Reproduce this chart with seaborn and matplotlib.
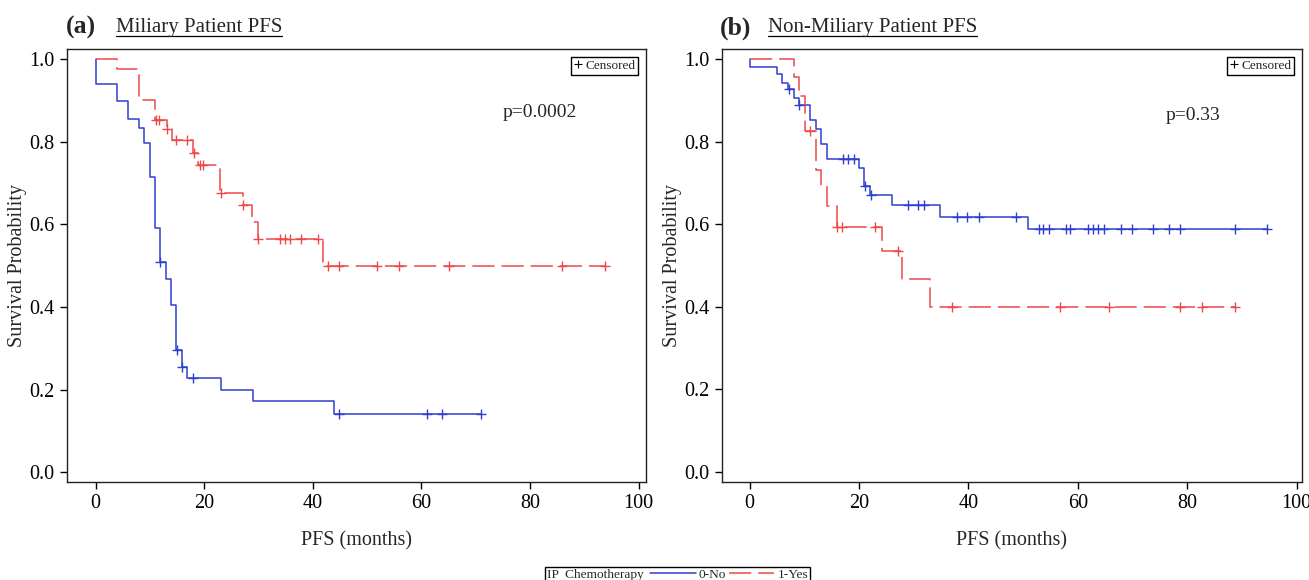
import numpy as np
import pandas as pd
import matplotlib
matplotlib.use("Agg")
import matplotlib.pyplot as plt
import seaborn as sns
from matplotlib.lines import Line2D
from matplotlib.offsetbox import HPacker

# ---------------- data ----------------
# Panel (a) Miliary patients, 0-No
a_no_time = [0, 0, 4.0, 6.0, 8.0, 9.0, 10.0, 11.0, 11.8, 12.9, 13.9, 14.8, 15.9, 16.9, 23.1, 29.0, 43.9, 70.9]
a_no_surv = [1.0, 0.941, 0.898, 0.855, 0.834, 0.796, 0.715, 0.592, 0.509, 0.467, 0.406, 0.297, 0.254, 0.228,
             0.199, 0.173, 0.142, 0.142]
a_no_cens = [11.9, 15.0, 16.0, 18.0, 44.9, 61.0, 63.8, 70.9]
# Panel (a) Miliary patients, 1-Yes
a_yes_time = [0, 4.0, 8.0, 10.9, 13.1, 14.0, 18.0, 18.9, 23.0, 27.1, 28.9, 29.9, 41.9, 93.8]
a_yes_surv = [1.0, 0.977, 0.902, 0.852, 0.830, 0.804, 0.774, 0.743, 0.675, 0.646, 0.605, 0.564, 0.499, 0.499]
a_yes_cens = [11.05, 11.7, 13.2, 14.8, 16.8, 18.1, 19.2, 19.8, 23.1, 27.2, 30.0, 33.9, 34.9, 35.8, 37.9, 41.0,
              42.8, 44.9, 51.9, 55.9, 65.0, 85.8, 93.8]
# Panel (b) Non-miliary patients, 0-No
b_no_time = [0, 0, 5.05, 6.0, 7.05, 8.15, 9.0, 11.0, 12.05, 13.0, 14.1, 20.0, 20.95, 22.0, 26.0, 34.8, 50.9, 94.5]
b_no_surv = [1.0, 0.982, 0.964, 0.943, 0.928, 0.907, 0.888, 0.853, 0.831, 0.795, 0.758, 0.737, 0.692, 0.671,
             0.646, 0.618, 0.588, 0.588]
b_no_cens = [7.1, 9.1, 17.0, 18.0, 19.0, 21.0, 22.1, 29.0, 30.8, 31.9, 37.9, 39.8, 41.9, 48.7, 52.8, 53.7, 54.7,
             57.8, 58.6, 61.8, 62.7, 63.6, 64.8, 67.8, 69.8, 73.8, 76.7, 78.7, 88.7, 94.5]
# Panel (b) Non-miliary patients, 1-Yes
b_yes_time = [0, 8.15, 9.05, 10.1, 12.05, 13.0, 14.1, 15.9, 24.1, 27.9, 33.0, 88.7]
b_yes_surv = [1.0, 0.958, 0.911, 0.825, 0.731, 0.692, 0.644, 0.594, 0.535, 0.467, 0.399, 0.399]
b_yes_cens = [11.0, 16.0, 16.8, 23.0, 27.2, 36.9, 56.7, 65.7, 78.7, 82.6, 88.7]

p_values = ["p=0.0002", "p=0.33"]
panel_tags = ["(a)", "(b)"]
panel_titles = ["Miliary Patient PFS", "Non-Miliary Patient PFS"]
group_labels = ["0-No", "1-Yes"]
legend_title = "IP  Chemotherapy"
x_ticks = [0, 20, 40, 60, 80, 100]
y_ticks = [0.0, 0.2, 0.4, 0.6, 0.8, 1.0]

# ---------------- style ----------------
sns.set_theme(style="white")
plt.rcParams["font.family"] = ["Liberation Serif", "DejaVu Serif"]
plt.rcParams["lines.scale_dashes"] = False

BLUE = "#2f3fcf"
RED = "#ee4848"
DASH = (0, (16, 5))

fig = plt.figure(figsize=(13.09, 5.80), dpi=100)
ax_a = fig.add_axes([0.0514, 0.1695, 0.4419, 0.7455])
ax_b = fig.add_axes([0.5518, 0.1695, 0.4426, 0.7455])


def level_at(times, surv, t):
    times = np.asarray(times)
    surv = np.asarray(surv)
    idx = np.searchsorted(times, t, side="right") - 1
    return surv[idx]


def draw_group(ax, times, surv, cens, color, ls):
    df = pd.DataFrame({"t": times, "s": surv})
    sns.lineplot(data=df, x="t", y="s", ax=ax, estimator=None, sort=False,
                 drawstyle="steps-post", color=color, linewidth=1.1)
    ax.lines[-1].set_linestyle(ls)
    cdf = pd.DataFrame({"t": cens, "s": level_at(times, surv, cens)})
    sns.scatterplot(data=cdf, x="t", y="s", ax=ax, marker="+", s=60,
                    color=color, linewidth=1.0, zorder=3)


draw_group(ax_a, a_no_time, a_no_surv, a_no_cens, BLUE, "-")
draw_group(ax_a, a_yes_time, a_yes_surv, a_yes_cens, RED, DASH)
draw_group(ax_b, b_no_time, b_no_surv, b_no_cens, BLUE, "-")
draw_group(ax_b, b_yes_time, b_yes_surv, b_yes_cens, RED, DASH)

limits = [((-5.2, 101.3), (-0.023, 1.024)), ((-5.0, 100.9), (-0.024, 1.024))]
pv_pos = [(75.0, 0.87), (76.1, 0.863)]
for ax, (xl, yl), pv, pp in zip([ax_a, ax_b], limits, p_values, pv_pos):
    ax.set_xlim(*xl)
    ax.set_ylim(*yl)
    ax.set_xticks(x_ticks)
    ax.set_yticks(y_ticks)
    ax.set_yticklabels([f"{v:.1f}" for v in y_ticks])
    ax.tick_params(direction="out", length=5, width=1, left=True, bottom=True,
                   labelsize=14.5, colors="black", pad=4)
    for sp in ax.spines.values():
        sp.set_visible(True)
        sp.set_color("#222222")
        sp.set_linewidth(1.0)
    ax.set_xlabel("PFS (months)", fontsize=14.5, labelpad=13)
    ax.set_ylabel("Survival Probability", fontsize=14.5, labelpad=2)
    ax.text(pp[0], pp[1], pv, fontsize=14, va="center", ha="left")
    cens_handle = Line2D([], [], marker="+", ls="None", color="black", markersize=6, mew=0.8)
    leg = ax.legend(handles=[cens_handle], labels=["Censored"], loc="upper right", fontsize=9.5,
                    frameon=True, fancybox=False, edgecolor="black", framealpha=1,
                    handlelength=0.5, handletextpad=0.3, borderpad=0.25, borderaxespad=0.55)
    leg.get_frame().set_linewidth(1.0)

# ---------------- panel titles ----------------
tag_x = [0.0504, 0.550]
title_x = [0.0886, 0.5867]
title_texts = []
for tx, tt, tg, ttl in zip(tag_x, title_x, panel_tags, panel_titles):
    fig.text(tx, 0.952, tg, fontsize=18.5, fontweight="bold", va="center", ha="left")
    title_texts.append(fig.text(tt, 0.952, ttl, fontsize=15, va="center", ha="left"))

# ---------------- bottom legend ----------------
h_no = Line2D([], [], color=BLUE, lw=1.1)
h_yes = Line2D([], [], color=RED, lw=1.1, ls=DASH)
bleg = fig.legend(handles=[h_no, h_yes], labels=group_labels, title=legend_title, ncol=2,
                  loc="upper center", bbox_to_anchor=(0.5176, 1 - 566.5 / 580), fontsize=9.6,
                  title_fontsize=9.6, frameon=True, fancybox=False, edgecolor="black",
                  framealpha=1, handlelength=3.4, handletextpad=0.25, columnspacing=0.2,
                  borderpad=0.15, borderaxespad=0.0)
bleg.get_frame().set_linewidth(1.0)
try:
    fs = bleg._fontsize
    box = HPacker(pad=bleg.borderpad * fs, sep=0.5 * fs, align="center",
                  children=[bleg._legend_title_box, bleg._legend_handle_box])
    box.set_figure(fig)
    bleg._legend_box = box
    bleg._set_loc(bleg._loc)
except Exception:
    pass

# underline titles
fig.canvas.draw()
renderer = fig.canvas.get_renderer()
for t in title_texts:
    bb = t.get_window_extent(renderer).transformed(fig.transFigure.inverted())
    y = bb.y0 + 0.002
    fig.add_artist(Line2D([bb.x0, bb.x1], [y, y], transform=fig.transFigure,
                          color="black", lw=0.9))

fig.savefig("out.png", dpi=100)
